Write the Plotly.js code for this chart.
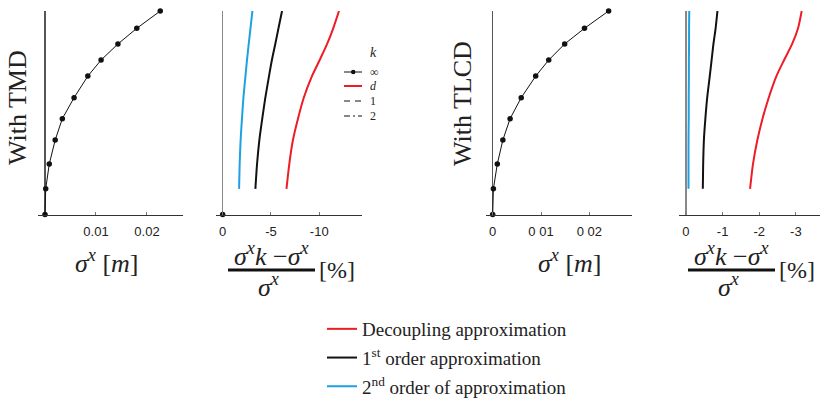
<!DOCTYPE html>
<html><head><meta charset="utf-8">
<script src="https://cdn.plot.ly/plotly-3.0.1.min.js"></script>
<style>html,body{margin:0;padding:0;background:#fff;overflow:hidden}#c{width:822px;height:398px}</style>
</head><body><div id="c"></div>
<script>
// ---- data ----
const yLevels = [0, 1.26, 2.48, 3.66, 4.71, 5.74, 6.80, 7.59, 8.38, 9.15, 10];
const sigmaTMD  = [0, 0.00014, 0.00084, 0.0020, 0.0034, 0.0057, 0.0084, 0.0110, 0.0143, 0.0180, 0.0226];
const sigmaTLCD = [0, 0.00014, 0.00095, 0.0021, 0.0036, 0.0059, 0.0089, 0.0116, 0.0149, 0.0190, 0.0240];
const errLevels = [1.26, 2.48, 3.66, 4.71, 5.74, 6.80, 7.59, 8.38, 9.15, 10];
const tmdDecoupling = [-6.61, -6.90, -7.28, -7.80, -8.40, -9.25, -10.05, -10.82, -11.45, -12.05];
const tmdFirst      = [-3.39, -3.56, -3.80, -4.10, -4.42, -4.80, -5.10, -5.45, -5.78, -6.15];
const tmdSecond     = [-1.70, -1.76, -1.86, -2.00, -2.15, -2.36, -2.52, -2.70, -2.88, -3.08];
const tlcdDecoupling = [-1.75, -1.83, -1.95, -2.09, -2.26, -2.47, -2.68, -2.90, -3.06, -3.16];
const tlcdFirst      = [-0.46, -0.47, -0.49, -0.53, -0.58, -0.65, -0.70, -0.75, -0.81, -0.86];
const tlcdSecond     = [-0.07, -0.07, -0.07, -0.075, -0.075, -0.08, -0.08, -0.085, -0.085, -0.09];
const exactErr = [0];
const exactLevel = [0];
const tickP1 = [0.01, 0.02], tickP1Text = ["0.01", "0.02"];
const tickP2 = [0, -5, -10], tickP2Text = ["0", "-5", "-10"];
const tickP3 = [0, 0.01, 0.02], tickP3Text = ["0", "0 01", "0 02"];
const tickP4 = [0, -1, -2, -3], tickP4Text = ["0", "-1", "-2", "-3"];
const legendNames = ["Decoupling approximation", "1<sup>st</sup> order approximation", "2<sup>nd</sup> order of approximation"];

// ---- style ----
const RED = "#ee1c25", BLACK = "#111111", BLUE = "#1da1e2";
const W = 822, H = 398;
const px = x => x / W, py = y => 1 - y / H;
const serif = "Liberation Serif";
const sans = "Liberation Sans";

function curve(x, y, color, xa, ya, name, show, group) {
  return {x: x, y: y, xaxis: xa, yaxis: ya, mode: "lines", type: "scatter",
    line: {color: color, width: 2, shape: "spline", smoothing: 0.7},
    name: name || "", showlegend: !!show, legendgroup: group || undefined, hoverinfo: "skip"};
}
const data = [
  {x: sigmaTMD, y: yLevels, xaxis: "x", yaxis: "y", mode: "lines+markers", type: "scatter",
   line: {color: BLACK, width: 1}, marker: {color: BLACK, size: 5.5}, showlegend: false, cliponaxis: false},
  {x: sigmaTLCD, y: yLevels, xaxis: "x3", yaxis: "y3", mode: "lines+markers", type: "scatter",
   line: {color: BLACK, width: 1}, marker: {color: BLACK, size: 5.5}, showlegend: false, cliponaxis: false},
  curve(tmdDecoupling, errLevels, RED, "x2", "y2", legendNames[0], true, "a"),
  curve(tmdFirst, errLevels, BLACK, "x2", "y2", legendNames[1], true, "b"),
  curve(tmdSecond, errLevels, BLUE, "x2", "y2", legendNames[2], true, "c"),
  curve(tlcdDecoupling, errLevels, RED, "x4", "y4"),
  curve(tlcdFirst, errLevels, BLACK, "x4", "y4"),
  curve(tlcdSecond, errLevels, BLUE, "x4", "y4"),
  {x: exactErr, y: exactLevel, xaxis: "x2", yaxis: "y2", mode: "markers", type: "scatter",
   marker: {color: BLACK, size: 5.5}, showlegend: false, cliponaxis: false}
];

const yDom = [py(214.5), py(11)];
function xax(dom, range, tv, tt, zc) {
  return {domain: dom, range: range, tickvals: tv, ticktext: tt,
    showgrid: false, zeroline: true, zerolinecolor: zc, zerolinewidth: 1.5,
    showline: true, linecolor: "#333", linewidth: 1.3, ticks: "inside", ticklen: 3, tickcolor: "#777",
    tickfont: {family: sans, size: 13, color: "#222"}, ticklabelstandoff: 5, fixedrange: true, automargin: false};
}
function yax(anchor) {
  return {domain: yDom, range: [0, 10], anchor: anchor, showgrid: false, zeroline: false, showline: false,
    showticklabels: false, ticks: "", fixedrange: true, automargin: false};
}
const layout = {
  width: W, height: H, margin: {l: 0, r: 0, t: 0, b: 0, pad: 0, autoexpand: false},
  paper_bgcolor: "#fff", plot_bgcolor: "rgba(0,0,0,0)", showlegend: true,
  xaxis:  Object.assign(xax([px(38), px(183)], [-0.00137, 0.02706], tickP1, tickP1Text, "#555"), {anchor: "y"}),
  xaxis2: Object.assign(xax([px(216), px(361.7)], [0.69, -14.4], tickP2, tickP2Text, "#888"), {anchor: "y2"}),
  xaxis3: Object.assign(xax([px(486), px(631.7)], [-0.00139, 0.02878], tickP3, tickP3Text, "#555"), {anchor: "y3"}),
  xaxis4: Object.assign(xax([px(679), px(820)], [0.19, -3.66], tickP4, tickP4Text, "#888"), {anchor: "y4"}),
  yaxis: yax("x"), yaxis2: yax("x2"), yaxis3: yax("x3"), yaxis4: yax("x4"),
  legend: {x: px(322), y: py(310), xanchor: "left", yanchor: "top", tracegroupgap: 1,
    font: {family: serif, size: 19, color: "#222"}, bgcolor: "rgba(0,0,0,0)", itemwidth: 30},
  font: {family: serif},
  annotations: [], shapes: []
};
const A = layout.annotations, S = layout.shapes;
function ann(x, y, text, size, extra) {
  A.push(Object.assign({xref: "paper", yref: "paper", x: px(x), y: py(y), text: text, showarrow: false,
    xanchor: "center", yanchor: "middle", font: {family: serif, size: size, color: "#222"}}, extra || {}));
}
// y titles
ann(17, 108, "With TMD", 26, {textangle: -90});
ann(462, 104, "With TLCD", 26, {textangle: -90});
// x titles
ann(107, 261, "<i>σ</i><sup><i>x</i></sup> [<i>m</i>]", 26);
ann(570, 261, "<i>σ</i><sup><i>x</i></sup> [<i>m</i>]", 26);
// fraction titles
[[271.5, 337], [731.5, 797]].forEach(([c, b]) => {
  ann(c, 254, "<i>σ</i><sup><i>x</i></sup><i>k</i> −<i>σ</i><sup><i>x</i></sup>", 26);
  ann(c - 3, 285, "<i>σ</i><sup><i>x</i></sup>", 26);
  ann(b, 270, "[%]", 24);
  S.push({type: "line", xref: "paper", yref: "paper", x0: px(c - 43.5), x1: px(c + 43.5), y0: py(270), y1: py(270),
    line: {color: BLACK, width: 3}});
});
// k legend (panel 2)
ann(373, 53, "<i>k</i>", 14);
const kRows = [[72, "∞", BLACK, "solid", 1], [86, "<i>d</i>", RED, "solid", 2],
               [101, "1", BLACK, "6px,5px", 1], [116, "2", BLACK, "6px,3px,2px,3px", 1]];
kRows.forEach(([y, t, c, d, w]) => {
  S.push({type: "line", xref: "paper", yref: "paper", x0: px(344), x1: px(362), y0: py(y), y1: py(y),
    line: {color: c, width: w, dash: d}});
  ann(368, y, t, 12, {xanchor: "left"});
});
S.push({type: "circle", xref: "paper", yref: "paper", x0: px(351), x1: px(355.5), y0: py(74.2), y1: py(69.8),
  fillcolor: BLACK, line: {color: BLACK, width: 0}});

Plotly.newPlot("c", data, layout, {staticPlot: true, displayModeBar: false});
</script></body></html>
